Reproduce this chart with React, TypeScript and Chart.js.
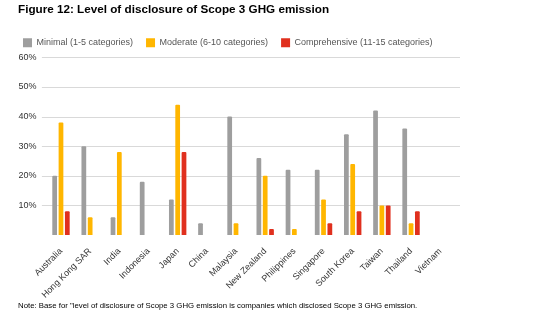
import React, { useEffect, useRef } from "react";
import { Chart, registerables } from "chart.js";

Chart.register(...registerables);

const categories = [
  "Australia", "Hong Kong SAR", "India", "Indonesia", "Japan", "China", "Malaysia",
  "New Zealand", "Philippines", "Singapore", "South Korea", "Taiwan", "Thailand", "Vietnam",
];
const minimal = [20, 30, 6, 18, 12, 4, 40, 26, 22, 22, 34, 42, 36, 0];
const moderate = [38, 6, 28, 0, 44, 0, 4, 20, 2, 12, 24, 10, 4, 0];
const comprehensive = [8, 0, 0, 0, 28, 0, 0, 2, 0, 4, 8, 10, 8, 0];
const seriesNames = ["Minimal (1-5 categories)", "Moderate (6-10 categories)", "Comprehensive (11-15 categories)"];
const yTicks = [10, 20, 30, 40, 50, 60];

const FONT = "'Liberation Sans', Arial, Helvetica, sans-serif";

const gridPlugin = {
  id: "extGrid",
  beforeDatasetsDraw(chart: any) {
    const { ctx, chartArea, scales } = chart;
    ctx.save();
    ctx.strokeStyle = "#d9d9d9";
    ctx.lineWidth = 1;
    yTicks.forEach((v) => {
      const y = Math.round(scales.y.getPixelForValue(v)) + 0.5;
      ctx.beginPath();
      ctx.moveTo(chartArea.left - 4.5, y);
      ctx.lineTo(chartArea.right + 5.2, y);
      ctx.stroke();
    });
    ctx.restore();
  },
};

export default function App() {
  const ref = useRef<HTMLCanvasElement>(null);
  useEffect(() => {
    if (!ref.current) return;
    const chart = new Chart(ref.current, {
      type: "bar",
      data: {
        labels: categories,
        datasets: [
          { label: seriesNames[0], data: minimal, backgroundColor: "#9e9e9e" },
          { label: seriesNames[1], data: moderate, backgroundColor: "#ffb600" },
          { label: seriesNames[2], data: comprehensive, backgroundColor: "#e0301e" },
        ],
      },
      options: {
        responsive: false,
        animation: false,
        layout: { padding: { left: 10, right: 92.2, top: 20.5, bottom: 0 } },
        datasets: { bar: { categoryPercentage: 0.65, barPercentage: 0.75, borderRadius: 1 } },
        plugins: {
          legend: {
            align: "start",
            labels: {
              boxWidth: 9,
              boxHeight: 9,
              padding: 13,
              color: "#555",
              font: { family: FONT, size: 9 },
            },
          },
          tooltip: { enabled: false },
        },
        scales: {
          x: {
            grid: { display: false },
            border: { display: false },
            ticks: {
              autoSkip: false,
              minRotation: 45,
              maxRotation: 45,
              color: "#333",
              font: { family: FONT, size: 9 },
            },
            afterFit: (s: any) => { s.height = 88; },
          },
          y: {
            min: 0,
            max: 60,
            grid: { display: false, drawTicks: false },
            border: { display: false },
            ticks: {
              stepSize: 10,
              padding: 10,
              color: "#333",
              font: { family: FONT, size: 9 },
              callback: (v: any) => (v === 0 ? "" : v + "%"),
            },
            afterFit: (s: any) => { s.width = 36.4; s.paddingTop = 57.3; },
          },
        },
      },
      plugins: [gridPlugin],
    });
    return () => chart.destroy();
  }, []);
  return (
    <div style={{ position: "fixed", left: 0, top: 0, width: 547, height: 323, background: "#fff", fontFamily: FONT }}>
      <canvas ref={ref} width={547} height={323} style={{ position: "absolute", left: 0, top: 0, width: 547, height: 323 }} />
      <div style={{ position: "absolute", left: 18, top: 1, fontSize: 11.7, lineHeight: "15px", fontWeight: "bold", color: "#000", whiteSpace: "nowrap" }}>
        Figure 12: Level of disclosure of Scope 3 GHG emission
      </div>
      <div style={{ position: "absolute", left: 18, top: 301, fontSize: 7.8, lineHeight: "10px", color: "#000", whiteSpace: "nowrap" }}>
        Note: Base for "level of disclosure of Scope 3 GHG emission is companies which disclosed Scope 3 GHG emission.
      </div>
    </div>
  );
}
